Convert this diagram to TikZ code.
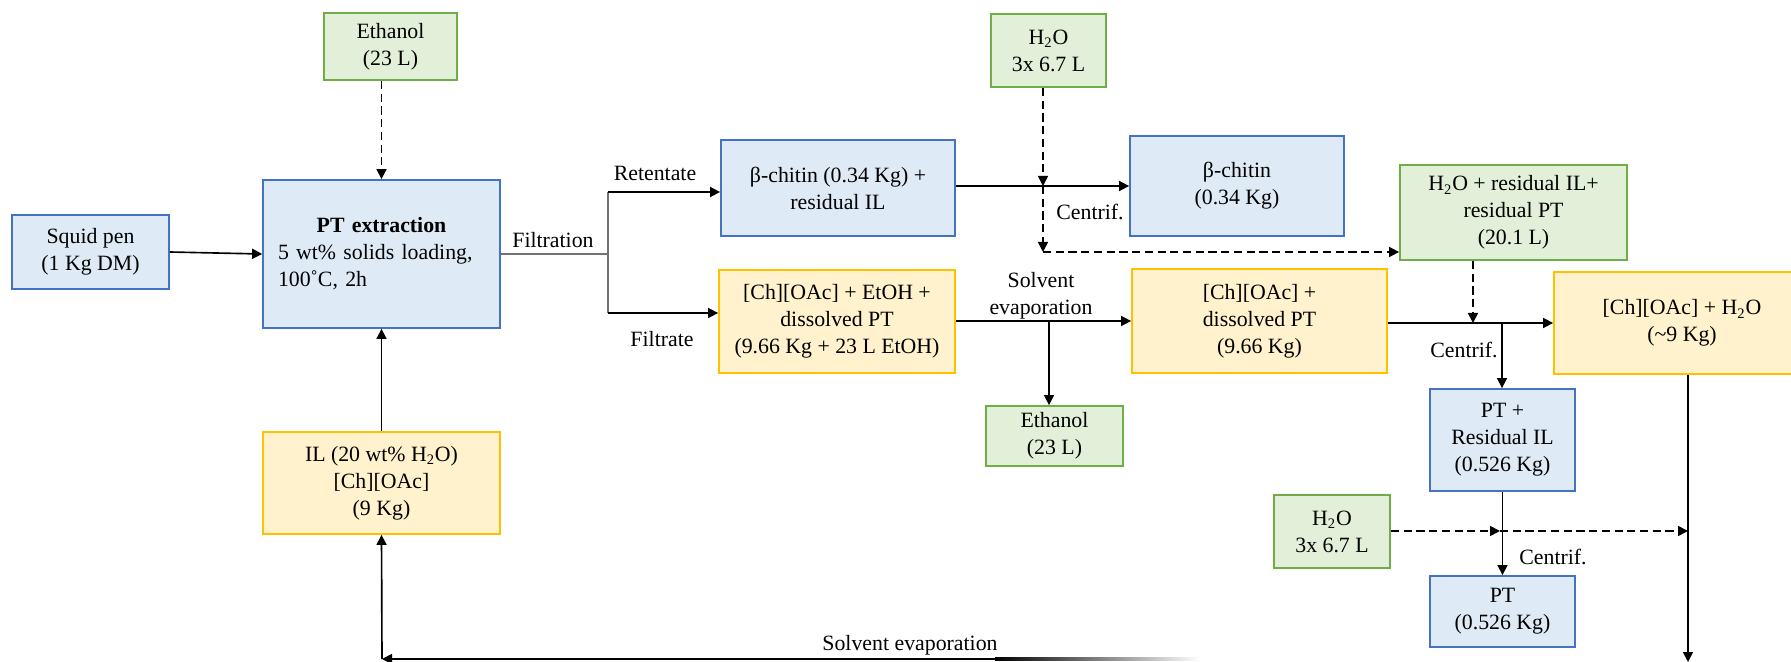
\documentclass[tikz,border=0pt]{standalone}
\usepackage{fontspec}
\setmainfont{Liberation Serif}
\usetikzlibrary{arrows.meta}
\definecolor{bfill}{HTML}{DEEBF7}\definecolor{bdraw}{HTML}{4472C4}
\definecolor{gfill}{HTML}{E2F0D9}\definecolor{gdraw}{HTML}{70AD47}
\definecolor{yfill}{HTML}{FFF2CC}\definecolor{ydraw}{HTML}{FFC000}
\begin{document}
\begin{tikzpicture}[x=0.55pt,y=-0.55pt,
  box/.style={draw, line width=1pt, align=center, inner sep=2pt, font=\fontsize{12}{14.8}\selectfont},
  bbox/.style={box, fill=bfill, draw=bdraw},
  gbox/.style={box, fill=gfill, draw=gdraw},
  ybox/.style={box, fill=yfill, draw=ydraw},
  lbl/.style={font=\fontsize{12}{14.8}\selectfont, inner sep=0pt, align=center},
  arr/.style={-{Triangle[length=5.5pt,width=5.5pt]}, line width=0.9pt},
  darr/.style={arr, dash pattern=on 4.5pt off 2.5pt},
  gline/.style={draw=black!55, line width=0.7pt}]
\clip (0,0) rectangle (1791,662);
\fill[white] (0,0) rectangle (1791,662);
% nodes
\node[bbox, minimum width=86.35pt, minimum height=40.7pt] (squid) at (90.5,252) {Squid pen\\(1 Kg DM)};
\node[bbox, text width=113.85pt, inner xsep=8.25pt, align=left, minimum height=81.4pt] (ptx) at (381.5,254) {\makebox[\linewidth]{\textbf{PT extraction}}\\5 wt\% solids loading,\\100˚C, 2h};
\node[gbox, minimum width=73.15pt, minimum height=36.85pt] (eth1) at (390.5,46.5) {Ethanol\\(23 L)};
\node[ybox, minimum width=130.35pt, minimum height=56.1pt] (il) at (381.5,483) {IL (20 wt\% H\textsubscript{2}O)\\{[Ch][OAc]}\\(9 Kg)};
\node[bbox, minimum width=128.7pt, minimum height=52.8pt] (bch1) at (838,188) {β-chitin (0.34 Kg) +\\residual IL};
\node[bbox, minimum width=117.7pt, minimum height=55pt] (bch2) at (1237,186) {β-chitin\\(0.34 Kg)};
\node[ybox, minimum width=129.8pt, minimum height=56.65pt] (mix1) at (837,321.5) {{[Ch][OAc]} + EtOH +\\dissolved PT\\(9.66 Kg + 23 L EtOH)};
\node[gbox, minimum width=63.25pt, minimum height=40.15pt] (h2o1) at (1048.5,50.5) {H\textsubscript{2}O\\3x 6.7 L};
\node[gbox, minimum width=75.35pt, minimum height=33pt] (eth2) at (1054.5,436) {Ethanol\\(23 L)};
\node[ybox, minimum width=140.25pt, minimum height=57.2pt] (mix2) at (1259.5,321) {{[Ch][OAc]} +\\dissolved PT\\(9.66 Kg)};
\node[gbox, minimum width=124.85pt, minimum height=52.25pt] (h2o2) at (1513.5,212.5) {H\textsubscript{2}O + residual IL+\\residual PT\\(20.1 L)};
\node[ybox, minimum width=140.8pt, minimum height=56.1pt] (mix3) at (1682,323) {{[Ch][OAc]} + H\textsubscript{2}O\\(\textasciitilde 9 Kg)};
\node[bbox, minimum width=79.75pt, minimum height=56.1pt] (ptil) at (1502.5,440) {PT +\\Residual IL\\(0.526 Kg)};
\node[gbox, minimum width=63.8pt, minimum height=40.15pt] (h2o3) at (1332,531.5) {H\textsubscript{2}O\\3x 6.7 L};
\node[bbox, minimum width=79.75pt, minimum height=39.05pt] (pt) at (1502.5,611.5) {PT\\(0.526 Kg)};
% labels
\node[lbl] (lret) at (655,173) {Retentate};
\node[lbl] (lfil) at (553,240) {Filtration};
\node[lbl] (lfilt) at (662,339) {Filtrate};
\node[lbl] (lc1) at (1090,212) {Centrif.};
\node[lbl] (lse1) at (1041,296) {Solvent\\evaporation};
\node[lbl] (lc2) at (1464,350) {Centrif.};
\node[lbl] (lc3) at (1553,557) {Centrif.};
\node[lbl] (lse2) at (910,645) {Solvent evaporation};
% coordinates
\coordinate (f0) at (608,254);
\coordinate (fT) at (608,192);
\coordinate (fB) at (608,313);
\coordinate (d1) at (1043,186);
\coordinate (d2) at (1043,252);
\coordinate (e1) at (1049,321);
\coordinate (j2) at (1473,323);
\coordinate (j3) at (1502,323);
\coordinate (j4) at (1500,531);
\coordinate (j5) at (1688,531);
\coordinate (r2) at (1688,662);
\coordinate (b1) at (995,659);
\coordinate (b2) at (382,659);
% connectors
\draw[arr] (squid.east) -- (ptx.west);
\draw[darr] (ptx.north |- eth1.south) -- (ptx.north);
\draw[arr] (il.north) -- (ptx.south);
\draw[gline] (ptx.east) -- (f0);
\draw[gline] (fT) -- (fB);
\draw[arr] (fT) -- (fT -| bch1.west);
\draw[arr] (fB) -- (fB -| mix1.west);
\draw[arr] (bch1.east |- d1) -- (d1 -| bch2.west);
\draw[darr] (h2o1.south -| d1) -- (d1);
\draw[darr] (d1) -- (d2);
\draw[darr] (d2) -- (d2 -| h2o2.west);
\draw[arr] (mix1.east |- e1) -- (e1 -| mix2.west);
\draw[arr] (e1) -- (eth2.north -| e1);
\draw[darr] (h2o2.south -| j2) -- (j2);
\draw[arr] (mix2.east |- j2) -- (j2 -| mix3.west);
\draw[arr] (j3) -- (ptil.north -| j3);
\draw[arr] (ptil.south) -- (pt.north);
\draw[darr] (h2o3.east |- j4) -- (j4);
\draw[darr] (j4) -- (j5);
\draw[arr] (mix3.south -| r2) -- (r2);
\shade[left color=black, right color=white] (995,657.7) rectangle (1200,660.3);
\draw[arr] (b1) -- (b2);
\draw[arr] (b2) -- (il.south);
\end{tikzpicture}
\end{document}
